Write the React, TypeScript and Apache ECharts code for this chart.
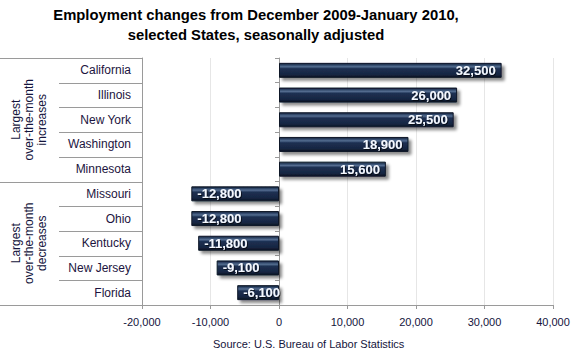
import React, { useEffect, useRef } from "react";
import * as echarts from "echarts";

const states = ["California", "Illinois", "New York", "Washington", "Minnesota", "Missouri", "Ohio", "Kentucky", "New Jersey", "Florida"];
const changes = [32500, 26000, 25500, 18900, 15600, -12800, -12800, -11800, -9100, -6100];
const groupLabels = ["Largest\nover-the-month\nincreases", "Largest\nover-the-month\ndecreases"];
const groupSizes = [5, 5];
const xMin = -20000;
const xMax = 40000;
const xStep = 10000;
const titleText = "Employment changes from December 2009-January 2010,\nselected States, seasonally adjusted";
const sourceText = "Source: U.S. Bureau of Labor Statistics";

const fmt = (v: number) => {
  const s = Math.abs(v).toString().replace(/\B(?=(\d{3})+(?!\d))/g, ",");
  return (v < 0 ? "-" : "") + s;
};

export default function App() {
  const ref = useRef<HTMLDivElement>(null);
  useEffect(() => {
    const chart = echarts.init(ref.current!, null, { renderer: "svg" });
    const H = 360;
    const gl = 142, gr = 27, gt = 58, gb = 55;
    const plotH = H - gt - gb;
    const n = states.length;
    const step = plotH / n;
    const lineColor = "#9a9a9a";
    const graphics: any[] = [];
    let idx = 0;
    graphics.push({ type: "line", shape: { x1: 0, y1: gt + 0.5, x2: gl, y2: gt + 0.5 }, style: { stroke: lineColor, lineWidth: 1 } });
    groupSizes.forEach((size, g) => {
      for (let i = 1; i < size; i++) {
        const y = Math.round(gt + (idx + i) * step) + 0.5;
        graphics.push({ type: "line", shape: { x1: 59, y1: y, x2: gl, y2: y }, style: { stroke: lineColor, lineWidth: 1 } });
      }
      const yEnd = Math.round(gt + (idx + size) * step) + 0.5;
      graphics.push({ type: "line", shape: { x1: 0, y1: yEnd, x2: gl, y2: yEnd }, style: { stroke: lineColor, lineWidth: 1 } });
      const yc = gt + (idx + size / 2) * step;
      graphics.push({
        type: "text",
        x: 29,
        y: yc,
        rotation: Math.PI / 2,
        style: {
          text: groupLabels[g],
          fontSize: 12,
          fontFamily: "Liberation Sans, Arial",
          fill: "#14143c",
          align: "center",
          verticalAlign: "middle",
          lineHeight: 13,
        },
      });
      idx += size;
    });
    graphics.push({
      type: "text",
      left: 213,
      top: 338,
      style: { text: sourceText, fontSize: 11, fontFamily: "Liberation Sans, Arial", fill: "#14143c" },
    });

    chart.setOption({
      animation: false,
      title: {
        text: titleText,
        left: 251,
        textAlign: "center",
        top: 0,
        textStyle: { fontSize: 14.8, fontWeight: "bold", fontFamily: "Liberation Sans, Arial", color: "#000", lineHeight: 20 },
      },
      grid: { left: gl, right: gr, top: gt, bottom: gb },
      xAxis: {
        type: "value",
        min: xMin,
        max: xMax,
        interval: xStep,
        axisLine: { show: true, lineStyle: { color: lineColor } },
        axisTick: { show: true, length: 4, lineStyle: { color: lineColor } },
        splitLine: { show: true, lineStyle: { color: "#e6e6e6" } },
        axisLabel: { formatter: (v: number) => fmt(v), fontSize: 11, fontFamily: "Liberation Sans, Arial", color: "#14143c", margin: 11 },
      },
      yAxis: [
        {
          type: "category",
          data: states,
          inverse: true,
          position: "left",
          axisLine: { show: true, onZero: false, lineStyle: { color: lineColor } },
          axisTick: { show: false },
          axisLabel: { fontSize: 12, fontFamily: "Liberation Sans, Arial", color: "#1c1440", margin: 11 },
        },
        {
          type: "category",
          data: states,
          inverse: true,
          position: "left",
          axisLine: { show: true, onZero: true, lineStyle: { color: lineColor } },
          axisTick: { show: true, length: 4, lineStyle: { color: lineColor } },
          axisLabel: { show: false },
        },
      ],
      series: [
        {
          type: "bar",
          yAxisIndex: 0,
          barWidth: 15,
          data: changes.map((v) => ({
            value: v,
            label: { position: v >= 0 ? "insideRight" : "insideLeft" },
          })),
          itemStyle: {
            color: new echarts.graphic.LinearGradient(0, 0, 0, 1, [
              { offset: 0, color: "#15223a" },
              { offset: 0.12, color: "#2f4668" },
              { offset: 0.24, color: "#546d90" },
              { offset: 0.38, color: "#1d3052" },
              { offset: 0.8, color: "#172642" },
              { offset: 1, color: "#0a1322" },
            ]),
            borderColor: "#0b1628",
            borderWidth: 1,
            shadowColor: "rgba(0,0,0,0.45)",
            shadowBlur: 3,
            shadowOffsetX: 3,
            shadowOffsetY: 3,
          },
          label: {
            show: true,
            formatter: (p: any) => fmt(p.value),
            color: "#f4f8ff",
            fontSize: 13,
            fontWeight: "bold",
            fontFamily: "Liberation Sans, Arial",
            distance: 6,
            textShadowColor: "rgba(0,0,0,0.6)",
            textShadowBlur: 1,
            textShadowOffsetX: 1,
            textShadowOffsetY: 1,
          },
        },
      ],
      graphic: graphics,
    });
    return () => chart.dispose();
  }, []);
  return <div ref={ref} style={{ width: 580, height: 360, position: "absolute", left: 0, top: 0 }} />;
}
